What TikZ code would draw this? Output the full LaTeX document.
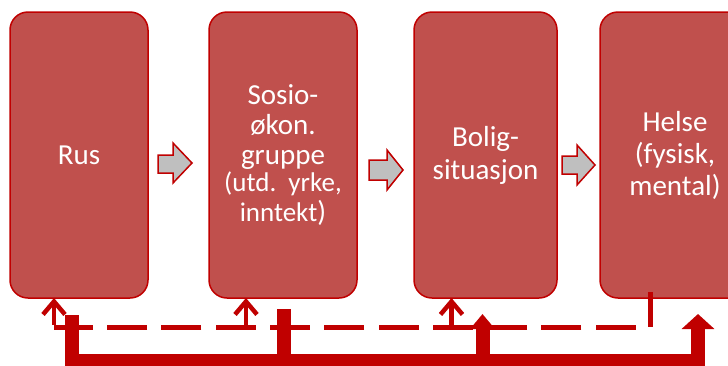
\documentclass[tikz,border=0pt]{standalone}
\usepackage{fontspec}
\setmainfont{Carlito}
\usetikzlibrary{arrows.meta}
\definecolor{boxfill}{HTML}{C0504D}
\definecolor{darkred}{HTML}{C00000}
\definecolor{arrgray}{HTML}{BFBFBF}
\begin{document}
\begin{tikzpicture}[x=1pt,y=-1pt,
  box/.style={draw=darkred, line width=1.5pt, fill=boxfill, rounded corners=18pt,
    text=white, align=center, font=\fontsize{29}{33}\selectfont,
    inner sep=0pt, outer sep=0pt, minimum height=286pt},
  blockarr/.style={draw=darkred, line width=1.5pt, fill=arrgray, line join=miter},
  dashconn/.style={draw=darkred, line width=5pt, dash pattern=on 40pt off 14.3pt, dash phase=5pt},
  thinarr/.style={draw=darkred, line width=4.5pt, -{Straight Barb[length=13pt,width=22pt]}},
  thickconn/.style={draw=darkred, line width=14pt, line join=miter},
  thickarr/.style={thickconn, -{Triangle[length=15pt,width=#1]}}
]
\useasboundingbox (0,0) rectangle (728,365);
\clip (0,0) rectangle (728,365);

\node[box, minimum width=138pt] (b1) at (79,155) {Rus};
\node[box, minimum width=148pt, font=\fontsize{29}{30}\selectfont] (b2) at (283,155) {Sosio-\\økon.\\gruppe\\[-3pt]{\fontsize{27}{29}\selectfont(utd.\ \ yrke,}\\{\fontsize{27}{29}\selectfont inntekt})};
\node[box, minimum width=143pt] (b3) at (485.5,155) {Bolig-\\situasjon};
\node[box, minimum width=150pt, font=\fontsize{29}{32}\selectfont] (b4) at (675,155) {Helse\\(fysisk,\\mental)};

% block arrows between boxes
\draw[blockarr] (158,155) -- (173,155) -- (173,143) -- (192,163) -- (173,183) -- (173,173) -- (158,173) -- cycle;
\draw[blockarr] (369,160) -- (387,160) -- (387,150) -- (403,170) -- (387,190) -- (387,180) -- (369,180) -- cycle;
\draw[blockarr] (562,156) -- (577,156) -- (577,145) -- (595,165) -- (577,185) -- (577,174) -- (562,174) -- cycle;

% dashed feedback
\coordinate (ds) at (650,292);
\coordinate (dc) at (650,327);
\coordinate (dl) at (54,327);
\coordinate (d2) at (246,327);
\coordinate (d3) at (451.5,327);
\draw[dashconn] (ds) -- (dc) -- (dl);
\draw[thinarr] ([yshift=2.5pt]dl) -- (dl |- b1.south);
\draw[thinarr] (d2) -- (d2 |- b2.south);
\draw[thinarr] (d3) -- (d3 |- b3.south);

% thick connector
\coordinate (t1) at (72,315);
\coordinate (t2) at (284,309);
\coordinate (t3) at (482.5,361);
\coordinate (t4) at (698,361);
\draw[thickarr=32pt] (t1) |- (t4) -- (698,314);
\draw[thickconn] (t2) -- (t2 |- t4);
\draw[thickarr=24pt] (t3) -- (482.5,314);
\end{tikzpicture}
\end{document}
